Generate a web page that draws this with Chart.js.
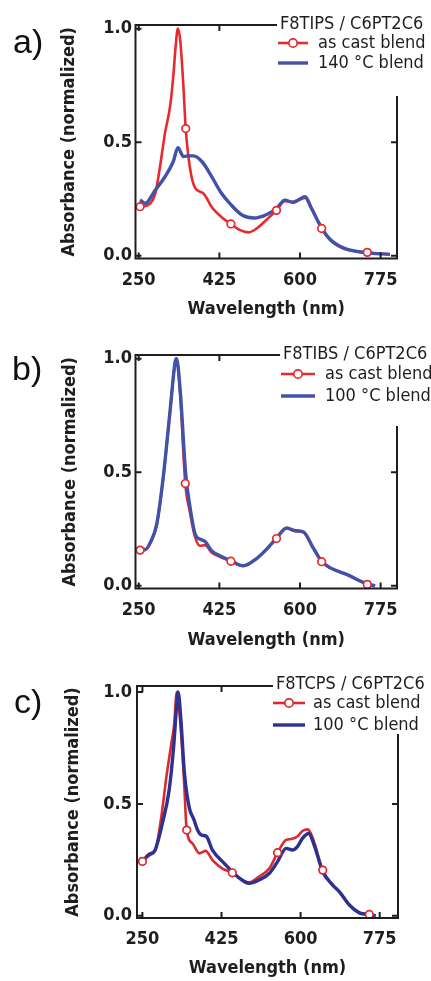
<!DOCTYPE html>
<html><head><meta charset="utf-8">
<script src="https://cdn.jsdelivr.net/npm/chart.js@4.4.1/dist/chart.umd.min.js"></script>
<style>
html,body{margin:0;padding:0;background:#fff;width:431px;height:981px;overflow:hidden;}
.p{position:absolute;left:0;width:431px;}
canvas{display:block;}
</style></head><body>
<div class="p" style="top:0;height:328px"><canvas id="ca" width="431" height="328"></canvas></div>
<div class="p" style="top:330px;height:325px"><canvas id="cb" width="431" height="325"></canvas></div>
<div class="p" style="top:655px;height:326px"><canvas id="cc" width="431" height="326"></canvas></div>
<script>
// ---------- tick labels ----------
const xTicks = [250, 425, 600, 775];
const yTicks = [0.0, 0.5, 1.0];
const xTitle = 'Wavelength (nm)';
const yTitle = 'Absorbance (normalized)';
const castLabel = 'as cast blend';

// ---------- panel a : F8TIPS / C6PT2C6 ----------
const titleA = 'F8TIPS / C6PT2C6';
const annealLabelA = '140 °C blend';
const wlA_cast  = [253, 271, 286, 296, 307, 318, 325, 330, 335, 340, 347, 352, 361, 372, 390, 410, 430, 450, 470, 488, 506, 528, 549, 567, 585, 596, 611, 625, 647, 665, 694, 746, 795];
const absA_cast = [0.216, 0.224, 0.275, 0.39, 0.54, 0.657, 0.79, 0.92, 1.0, 0.95, 0.745, 0.56, 0.39, 0.30, 0.275, 0.21, 0.17, 0.14, 0.113, 0.103, 0.12, 0.16, 0.20, 0.24, 0.238, 0.245, 0.255, 0.21, 0.12, 0.07, 0.032, 0.015, 0.006];
const wlA_ann   = [253, 264, 286, 307, 325, 335, 347, 360, 369, 387, 408, 428, 450, 475, 500, 528, 549, 567, 585, 596, 611, 625, 647, 665, 694, 737, 795];
const absA_ann  = [0.246, 0.231, 0.29, 0.348, 0.415, 0.476, 0.437, 0.44, 0.44, 0.415, 0.35, 0.28, 0.225, 0.178, 0.166, 0.182, 0.208, 0.245, 0.235, 0.245, 0.26, 0.208, 0.123, 0.073, 0.035, 0.015, 0.006];
const markA = [253, 352, 450, 549, 647, 746];

// ---------- panel b : F8TIBS / C6PT2C6 ----------
const titleB = 'F8TIBS / C6PT2C6';
const annealLabelB = '100 °C blend';
const wlB_cast  = [253, 264, 275, 289, 303, 318, 329, 332, 340, 351, 361, 372, 383, 394, 408, 426, 450, 477, 506, 528, 549, 571, 589, 607, 629, 647, 665, 701, 746, 763];
const absB_cast = [0.157, 0.157, 0.186, 0.267, 0.472, 0.765, 0.985, 1.0, 0.84, 0.45, 0.325, 0.216, 0.176, 0.179, 0.147, 0.128, 0.108, 0.087, 0.12, 0.161, 0.208, 0.252, 0.24, 0.235, 0.164, 0.106, 0.079, 0.05, 0.006, 0.0];
const wlB_ann   = [255, 264, 275, 289, 303, 318, 329, 332, 340, 352, 361, 372, 383, 394, 408, 426, 450, 477, 506, 528, 549, 571, 589, 607, 629, 647, 665, 701, 746, 763];
const absB_ann  = [0.16, 0.16, 0.19, 0.27, 0.475, 0.77, 0.985, 1.0, 0.86, 0.49, 0.35, 0.23, 0.205, 0.195, 0.155, 0.132, 0.11, 0.088, 0.12, 0.162, 0.21, 0.255, 0.243, 0.238, 0.166, 0.108, 0.08, 0.05, 0.008, 0.0];
const markB = [253, 351, 450, 549, 647, 746];

// ---------- panel c : F8TCPS / C6PT2C6 ----------
const titleC = 'F8TCPS / C6PT2C6';
const annealLabelC = '100 °C blend';
const wlC_cast  = [250, 265, 278, 291, 303, 314, 320, 326, 335, 342, 348, 361, 376, 390, 405, 427, 449, 468, 486, 508, 531, 549, 568, 579, 593, 604, 616, 627, 649, 671, 686, 708, 730, 752, 766];
const absC_cast = [0.243, 0.278, 0.293, 0.43, 0.62, 0.77, 0.85, 1.0, 0.83, 0.606, 0.383, 0.323, 0.279, 0.29, 0.249, 0.211, 0.192, 0.164, 0.149, 0.175, 0.212, 0.282, 0.339, 0.343, 0.354, 0.379, 0.386, 0.346, 0.204, 0.137, 0.107, 0.048, 0.013, 0.006, 0.0];
const wlC_ann   = [252, 265, 278, 294, 309, 319, 325, 329, 335, 343, 354, 364, 372, 381, 391, 405, 431, 461, 486, 508, 531, 549, 568, 582, 593, 604, 618, 630, 649, 671, 686, 708, 730, 752, 766];
const absC_ann  = [0.25, 0.272, 0.293, 0.412, 0.56, 0.754, 0.92, 1.0, 0.88, 0.636, 0.48, 0.43, 0.383, 0.36, 0.356, 0.293, 0.234, 0.174, 0.145, 0.16, 0.19, 0.242, 0.301, 0.294, 0.309, 0.346, 0.368, 0.316, 0.197, 0.137, 0.107, 0.048, 0.013, 0.005, 0.0];
const markC = [250, 348, 449, 549, 649, 752];

const FONT = "'DejaVu Sans Condensed','Liberation Sans Narrow','DejaVu Sans',sans-serif";
const INK = '#1e1e1e';

const framePlugin = {
  id: 'frame',
  afterDraw(chart, args, o) {
    const {ctx, chartArea: a} = chart;
    const x = chart.scales.x, y = chart.scales.y;
    ctx.save();
    ctx.strokeStyle = INK; ctx.lineWidth = 2; ctx.lineCap = 'square';
    ctx.beginPath();
    ctx.moveTo(a.left, a.top); ctx.lineTo(a.left, a.bottom); ctx.lineTo(a.right, a.bottom);
    ctx.lineTo(a.right, o.rightStart);
    ctx.moveTo(a.left, a.top); ctx.lineTo(o.topEnd, a.top);
    ctx.stroke();
    ctx.lineCap = 'butt';
    const TL = 6;
    ctx.beginPath();
    y.ticks.forEach(t => {
      const py = y.getPixelForValue(t.value);
      ctx.moveTo(a.left, py); ctx.lineTo(a.left + TL, py);
      if (py > o.rightStart) { ctx.moveTo(a.right, py); ctx.lineTo(a.right - TL, py); }
    });
    x.ticks.forEach(t => {
      const px = x.getPixelForValue(t.value);
      ctx.moveTo(px, a.bottom); ctx.lineTo(px, a.bottom - TL);
      if (px < o.topEnd) { ctx.moveTo(px, a.top); ctx.lineTo(px, a.top + TL); }
    });
    ctx.stroke();
    // legend
    ctx.fillStyle = INK;
    ctx.font = '18px ' + FONT;
    ctx.textBaseline = 'middle'; ctx.textAlign = 'left';
    ctx.fillText(o.title, o.titleX, o.titleY);
    const cast = chart.data.datasets[2], ann = chart.data.datasets[1];
    [[cast, o.itemY[0], true], [ann, o.itemY[1], false]].forEach(([ds, iy, mk]) => {
      ctx.strokeStyle = ds.borderColor; ctx.lineWidth = ds.borderWidth;
      ctx.beginPath(); ctx.moveTo(o.lineX[0], iy); ctx.lineTo(o.lineX[1], iy); ctx.stroke();
      if (mk) {
        ctx.beginPath(); ctx.arc((o.lineX[0] + o.lineX[1]) / 2, iy, 4.2, 0, Math.PI * 2);
        ctx.fillStyle = '#fff'; ctx.fill(); ctx.lineWidth = 1.7; ctx.stroke();
      }
      ctx.fillStyle = INK;
      ctx.fillText(ds.label, o.textX, iy);
    });
    // panel letter
    ctx.font = "34px 'Liberation Sans', Arial, sans-serif";
    ctx.textBaseline = 'alphabetic';
    ctx.fillStyle = '#111';
    ctx.fillText(o.letter, o.letterX, o.letterY);
    ctx.restore();
  }
};

function pts(wl, ab) { return wl.map((w, i) => ({x: w, y: ab[i]})); }

function makeChart(id, H, g, d) {
  const castPts = pts(d.wlCast, d.absCast);
  const annPts = pts(d.wlAnn, d.absAnn);
  const tickFont = {family: FONT, size: 18, weight: 'bold'};
  new Chart(document.getElementById(id), {
    type: 'line',
    data: {datasets: [
      {label: 'markers', data: castPts, showLine: false,
       pointRadius: c => d.marks.includes(c.raw.x) ? 3.8 : 0,
       pointBackgroundColor: '#fff', pointBorderColor: d.red, pointBorderWidth: 1.7, order: 0},
      {label: d.annLabel, data: annPts, borderColor: d.blue, borderWidth: 3.4, pointRadius: 0,
       cubicInterpolationMode: 'monotone', order: 1},
      {label: castLabel, data: castPts, borderColor: d.red, borderWidth: 2.6, pointRadius: 0,
       cubicInterpolationMode: 'monotone', order: 2}
    ]},
    plugins: [framePlugin],
    options: {
      responsive: false, animation: false, devicePixelRatio: 1,
      layout: {padding: {top: g.top, right: 431 - g.right, left: 0, bottom: 0}},
      plugins: {legend: {display: false}, tooltip: {enabled: false}, frame: g.frame},
      scales: {
        x: {type: 'linear', min: g.xmin, max: g.xmax,
            afterBuildTicks: s => { s.ticks = xTicks.map(v => ({value: v})); },
            afterFit: s => { s.height = H - g.bottom; },
            grid: {display: false, drawTicks: false}, border: {display: false},
            ticks: {font: tickFont, color: INK, padding: g.xTickPad, maxRotation: 0, autoSkip: false,
                    callback: v => String(v)},
            title: {display: true, text: xTitle, font: tickFont, color: INK,
                    padding: {top: 0, bottom: g.xTitlePad}}},
        y: {type: 'linear', min: g.ymin, max: g.ymax,
            afterBuildTicks: s => { s.ticks = yTicks.map(v => ({value: v})); },
            afterFit: s => { s.width = g.left; },
            grid: {display: false, drawTicks: false}, border: {display: false},
            ticks: {font: tickFont, color: INK, padding: g.yTickPad, autoSkip: false,
                    callback: v => Number(v).toFixed(1)},
            title: {display: true, text: yTitle, font: tickFont, color: INK,
                    padding: {top: g.yTitlePad, bottom: 0}}}
      }
    }
  });
}

makeChart('ca', 328,
  {left: 135.5, right: 397, top: 25, bottom: 258.5, xmin: 243, xmax: 810.5, ymin: -0.012, ymax: 1.016,
   xTickPad: 11, xTitlePad: 8, yTickPad: 3.5, yTitlePad: 59,
   frame: {topEnd: 276, rightStart: 97, title: titleA, titleX: 280, titleY: 24, itemY: [43, 63],
           lineX: [278, 308], textX: 318, letter: 'a)', letterX: 13, letterY: 53}},
  {wlCast: wlA_cast, absCast: absA_cast, wlAnn: wlA_ann, absAnn: absA_ann, marks: markA,
   annLabel: annealLabelA, red: '#e8292d', blue: '#4152a8'});

makeChart('cb', 325,
  {left: 135.5, right: 397, top: 25, bottom: 258.5, xmin: 243, xmax: 810.5, ymin: -0.012, ymax: 1.016,
   xTickPad: 11, xTitlePad: 3.5, yTickPad: 3.5, yTitlePad: 60,
   frame: {topEnd: 279, rightStart: 97, title: titleB, titleX: 283, titleY: 24, itemY: [44, 66],
           lineX: [281, 315], textX: 325, letter: 'b)', letterX: 12, letterY: 50}},
  {wlCast: wlB_cast, absCast: absB_cast, wlAnn: wlB_ann, absAnn: absB_ann, marks: markB,
   annLabel: annealLabelB, red: '#e8292d', blue: '#4152a8'});

makeChart('cc', 326,
  {left: 137, right: 398, top: 31, bottom: 263, xmin: 238, xmax: 815.5, ymin: -0.01, ymax: 1.027,
   xTickPad: 11, xTitlePad: 1.5, yTickPad: 5, yTitlePad: 63,
   frame: {topEnd: 272, rightStart: 80, title: titleC, titleX: 276, titleY: 29, itemY: [48, 70],
           lineX: [273, 305], textX: 313, letter: 'c)', letterX: 14, letterY: 58}},
  {wlCast: wlC_cast, absCast: absC_cast, wlAnn: wlC_ann, absAnn: absC_ann, marks: markC,
   annLabel: annealLabelC, red: '#da2a2e', blue: '#2c3192'});
</script>
</body></html>
